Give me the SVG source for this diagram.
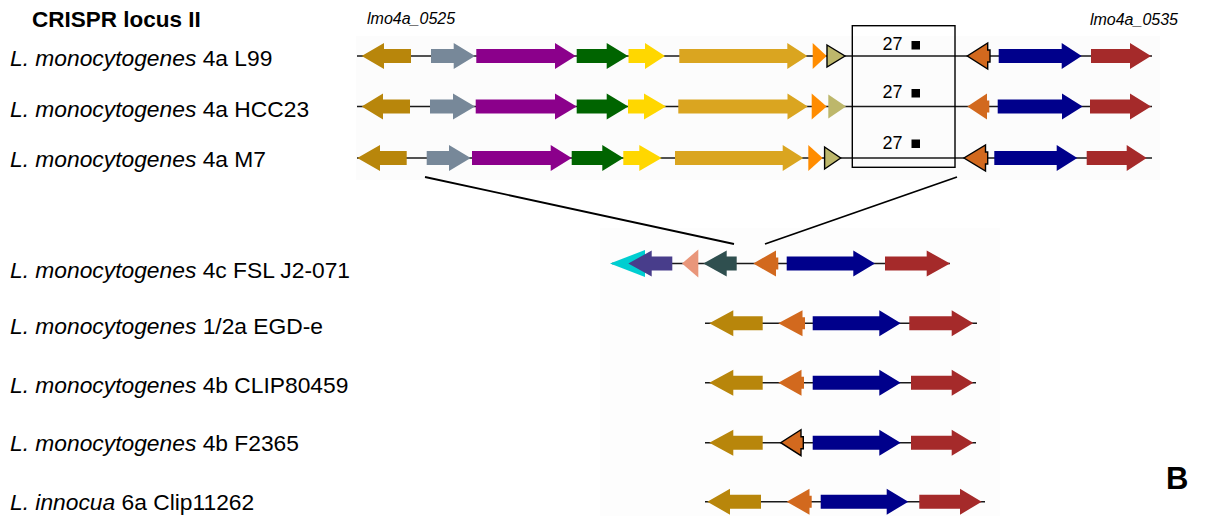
<svg xmlns="http://www.w3.org/2000/svg" width="1205" height="516" viewBox="0 0 1205 516">
<style>
.lbl{font-family:"Liberation Sans",Arial,sans-serif;font-size:22.8px;fill:#000}
.it{font-style:italic}
.ttl{font-family:"Liberation Sans",Arial,sans-serif;font-size:22.5px;font-weight:bold;fill:#000}
.loc{font-family:"Liberation Sans",Arial,sans-serif;font-size:16px;font-style:italic;fill:#000}
.num{font-family:"Liberation Sans",Arial,sans-serif;font-size:18px;fill:#000}
.bb{stroke:#1a1a1a;stroke-width:1.4;fill:none}
.con{stroke:#000;stroke-width:1.8;fill:none}
.ol{stroke:#000;stroke-width:1.4;stroke-linejoin:miter}
.c1{fill:#b8860b}.c2{fill:#778899}.c3{fill:#8b008b}.c4{fill:#006400}.c5{fill:#ffd700}
.c6{fill:#daa520}.c7{fill:#ff8c00}.c8{fill:#bdb76b}.c9{fill:#d2691e}.c10{fill:#00008b}
.c11{fill:#a52a2a}.c12{fill:#00ced1}.c13{fill:#483d8b}.c14{fill:#e9967a}.c15{fill:#2f4f4f}
</style>
<rect x="0" y="0" width="1205" height="516" fill="#ffffff"/>
<rect x="356" y="36" width="804" height="144" fill="#fcfcfc"/>
<rect x="600" y="228" width="400" height="288" fill="#fdfdfd"/>

<text class="ttl" x="32" y="27">CRISPR locus II</text>
<text class="loc" x="367" y="24">lmo4a_0525</text>
<text class="loc" x="1178" y="25" text-anchor="end">lmo4a_0535</text>

<g id="labels">
<text class="lbl" x="10" y="66"><tspan class="it">L. monocytogenes</tspan> 4a L99</text>
<text class="lbl" x="10" y="117"><tspan class="it">L. monocytogenes</tspan> 4a HCC23</text>
<text class="lbl" x="10" y="167"><tspan class="it">L. monocytogenes</tspan> 4a M7</text>
<text class="lbl" x="10" y="278"><tspan class="it">L. monocytogenes</tspan> 4c FSL J2-071</text>
<text class="lbl" x="10" y="334"><tspan class="it">L. monocytogenes</tspan> 1/2a EGD-e</text>
<text class="lbl" x="10" y="393"><tspan class="it">L. monocytogenes</tspan> 4b CLIP80459</text>
<text class="lbl" x="10" y="451"><tspan class="it">L. monocytogenes</tspan> 4b F2365</text>
<text class="lbl" x="10" y="510"><tspan class="it">L. innocua</tspan> 6a Clip11262</text>
</g>

<g id="connectors">
<line class="con" x1="425" y1="177" x2="734" y2="244"/>
<line class="con" x1="957" y1="177" x2="765" y2="244"/>
</g>

<g id="row1">
<line class="bb" x1="357" y1="56" x2="1152" y2="56"/>
<path class="c1" d="M411,49H384V43L361.7,56L384,69V63H411Z"/>
<path class="c2" d="M431,49H453.7V43L475,56L453.7,69V63H431Z"/>
<path class="c3" d="M476.3,49H555V43L575.7,56L555,69V63H476.3Z"/>
<path class="c4" d="M576.7,49H606.7V43L628,56L606.7,69V63H576.7Z"/>
<path class="c5" d="M628.5,49H645V43L665,56L645,69V63H628.5Z"/>
<path class="c6" d="M679.3,49H787.3V43L807.3,56L787.3,69V63H679.3Z"/>
<path class="c7" d="M812.7,43L826.7,56L812.7,69Z"/>
<path class="c8 ol" d="M827,45L845,56L827,67Z"/>
<path class="c9 ol" d="M990,50H987.7V43L967.3,56L987.7,69V62H990Z"/>
<path class="c10" d="M998.7,49H1061.7V43L1081.7,56L1061.7,69V63H998.7Z"/>
<path class="c11" d="M1091,49H1130V43L1151,56L1130,69V63H1091Z"/>
</g>

<g id="row2">
<line class="bb" x1="357" y1="106.5" x2="1152" y2="106.5"/>
<path class="c1" d="M410,99.5H383V93.5L361.7,106.5L383,119.5V113.5H410Z"/>
<path class="c2" d="M430,99.5H453V93.5L475,106.5L453,119.5V113.5H430Z"/>
<path class="c3" d="M475.7,99.5H555V93.5L576.7,106.5L555,119.5V113.5H475.7Z"/>
<path class="c4" d="M576.7,99.5H606.7V93.5L628.3,106.5L606.7,119.5V113.5H576.7Z"/>
<path class="c5" d="M628,99.5H644V93.5L666,106.5L644,119.5V113.5H628Z"/>
<path class="c6" d="M678.3,99.5H787.5V93.5L807.7,106.5L787.5,119.5V113.5H678.3Z"/>
<path class="c7" d="M811.7,93.5L826.7,106.5L811.7,119.5Z"/>
<path class="c8" d="M828.3,94.5L846,106.5L828.3,118.5Z"/>
<path class="c9" d="M989.3,100.5H987V93.5L967.3,106.5L987,119.5V112.5H989.3Z"/>
<path class="c10" d="M997.7,99.5H1062V93.5L1082.7,106.5L1062,119.5V113.5H997.7Z"/>
<path class="c11" d="M1090,99.5H1130V93.5L1151,106.5L1130,119.5V113.5H1090Z"/>
</g>

<g id="row3">
<line class="bb" x1="357" y1="158" x2="1152" y2="158"/>
<path class="c1" d="M406.7,151H380V145L357.3,158L380,171V165H406.7Z"/>
<path class="c2" d="M426.7,151H449V145L470.7,158L449,171V165H426.7Z"/>
<path class="c3" d="M472,151H550.7V145L571.7,158L550.7,171V165H472Z"/>
<path class="c4" d="M571.7,151H602.3V145L623.3,158L602.3,171V165H571.7Z"/>
<path class="c5" d="M623.3,151H639.3V145L661.7,158L639.3,171V165H623.3Z"/>
<path class="c6" d="M675,151H782.7V145L803.3,158L782.7,171V165H675Z"/>
<path class="c7" d="M808.3,145L822.7,158L808.3,171Z"/>
<path class="c8 ol" d="M824.6,147L840.7,158L824.6,169Z"/>
<path class="c9 ol" d="M987.7,152H985.5V145L964,158L985.5,171V164H987.7Z"/>
<path class="c10" d="M994.3,151H1056.7V145L1077.3,158L1056.7,171V165H994.3Z"/>
<path class="c11" d="M1086.7,151H1126.7V145L1146.7,158L1126.7,171V165H1086.7Z"/>
</g>

<g id="spacers">
<rect x="852.3" y="25.7" width="102.7" height="141.6" fill="none" stroke="#000" stroke-width="1.4"/>
<text class="num" x="882.5" y="50">27</text>
<rect x="911.5" y="41" width="8.5" height="8.5" fill="#000"/>
<text class="num" x="882.5" y="97.5">27</text>
<rect x="911.5" y="89" width="8.5" height="8.5" fill="#000"/>
<text class="num" x="882.5" y="148.5">27</text>
<rect x="911.5" y="139.5" width="8.5" height="8.5" fill="#000"/>
</g>

<g id="row4">
<line class="bb" x1="612" y1="263.5" x2="950" y2="263.5"/>
<path class="c12" d="M645,250L610,263.5L645,277Z"/>
<path class="c13" d="M672.3,256.5H651.7V250.5L628.3,263.5L651.7,276.5V270.5H672.3Z"/>
<path class="c14" d="M698.3,249.5L682,263.5L698.3,277.5Z"/>
<path class="c15" d="M736.7,256.5H726.7V250.5L703.3,263.5L726.7,276.5V270.5H736.7Z"/>
<path class="c9" d="M778.3,257.5H776V250.5L753.3,263.5L776,276.5V269.5H778.3Z"/>
<path class="c10" d="M786.7,256.5H853.3V250.5L875,263.5L853.3,276.5V270.5H786.7Z"/>
<path class="c11" d="M885,256.5H926.7V250.5L950,263.5L926.7,276.5V270.5H885Z"/>
</g>

<g id="row5">
<line class="bb" x1="705" y1="323.3" x2="977" y2="323.3"/>
<path class="c1" d="M762.7,316.3H733.3V310.3L709.3,323.3L733.3,336.3V330.3H762.7Z"/>
<path class="c9" d="M805,317.3H802.5V310.3L778.3,323.3L802.5,336.3V329.3H805Z"/>
<path class="c10" d="M812.7,316.3H879.3V310.3L900.7,323.3L879.3,336.3V330.3H812.7Z"/>
<path class="c11" d="M909.3,316.3H951.7V310.3L973.3,323.3L951.7,336.3V330.3H909.3Z"/>
</g>

<g id="row6">
<line class="bb" x1="705" y1="382.7" x2="976" y2="382.7"/>
<path class="c1" d="M762.7,375.7H733.3V369.7L709.3,382.7L733.3,395.7V389.7H762.7Z"/>
<path class="c9" d="M804,376.7H801.5V369.7L778.3,382.7L801.5,395.7V388.7H804Z"/>
<path class="c10" d="M812.7,375.7H879.3V369.7L900.7,382.7L879.3,395.7V389.7H812.7Z"/>
<path class="c11" d="M911,375.7H951.7V369.7L973.3,382.7L951.7,395.7V389.7H911Z"/>
</g>

<g id="row7">
<line class="bb" x1="705" y1="442.7" x2="976" y2="442.7"/>
<path class="c1" d="M762.7,435.7H733.3V429.7L709.3,442.7L733.3,455.7V449.7H762.7Z"/>
<path class="c9 ol" d="M803.3,436.7H801V429.7L780.7,442.7L801,455.7V448.7H803.3Z"/>
<path class="c10" d="M812.7,435.7H879.3V429.7L900.7,442.7L879.3,455.7V449.7H812.7Z"/>
<path class="c11" d="M911,435.7H951.7V429.7L973.3,442.7L951.7,455.7V449.7H911Z"/>
</g>

<g id="row8">
<line class="bb" x1="705" y1="501.7" x2="985" y2="501.7"/>
<path class="c1" d="M761,494.7H730V488.7L707.3,501.7L730,514.7V508.7H761Z"/>
<path class="c9" d="M811.7,495.7H809.5V488.7L786.7,501.7L809.5,514.7V507.7H811.7Z"/>
<path class="c10" d="M820.7,494.7H886.7V488.7L908.3,501.7L886.7,514.7V508.7H820.7Z"/>
<path class="c11" d="M919.3,494.7H960V488.7L981.7,501.7L960,514.7V508.7H919.3Z"/>
</g>

<text x="1166" y="489" font-family="Liberation Sans, Arial, sans-serif" font-size="31" font-weight="bold" fill="#000">B</text>
</svg>
